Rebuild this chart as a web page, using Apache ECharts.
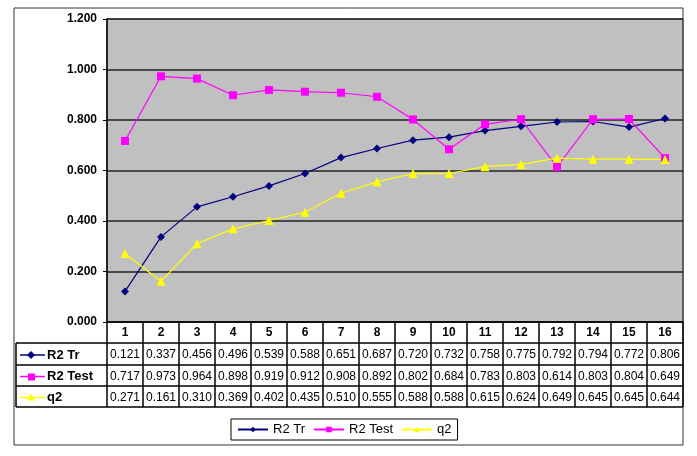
<!DOCTYPE html>
<html>
<head>
<meta charset="utf-8">
<script src="https://cdn.jsdelivr.net/npm/echarts@6/dist/echarts.min.js"></script>
<style>
  html, body { margin: 0; padding: 0; background: #fff; }
  #chart { width: 697px; height: 456px; }
</style>
</head>
<body>
<div id="chart"></div>
<script>
// data (matches the table under the chart)
const categories = ['1', '2', '3', '4', '5', '6', '7', '8', '9', '10', '11', '12', '13', '14', '15', '16']
const r2Tr = [0.121, 0.337, 0.456, 0.496, 0.539, 0.588, 0.651, 0.687, 0.720, 0.732, 0.758, 0.775, 0.792, 0.794, 0.772, 0.806]
const r2Test = [0.717, 0.973, 0.964, 0.898, 0.919, 0.912, 0.908, 0.892, 0.802, 0.684, 0.783, 0.803, 0.614, 0.803, 0.804, 0.649]
const q2 = [0.271, 0.161, 0.310, 0.369, 0.402, 0.435, 0.510, 0.555, 0.588, 0.588, 0.615, 0.624, 0.649, 0.645, 0.645, 0.644]
const seriesNames = ['R2 Tr', 'R2 Test', 'q2']

const FONT = '"Liberation Sans", Arial, sans-serif'
const colors = ['#000080', '#ff00ff', '#ffff00']
const symbols = ['diamond', 'rect', 'triangle']
const symbolSizes = [8, 8, 9]

// layout of plot + data table
const plotL = 107, plotR = 683, plotT = 19, plotB = 322
const tableL = 16
const rowLines = [343, 365, 386, 407]
const colW = (plotR - plotL) / categories.length

var myChart = echarts.init(document.getElementById('chart'))

// build the table under the chart
const graphics = []
// outer frame
graphics.push({
  type: 'rect',
  shape: { x: 14, y: 8, width: 669, height: 437 },
  style: { fill: null, stroke: '#333', lineWidth: 1 },
  silent: true
})
rowLines.forEach(y => {
  graphics.push({
    type: 'line',
    shape: { x1: tableL, y1: y, x2: plotR, y2: y },
    style: { stroke: '#000', lineWidth: 1.5 }
  })
})
graphics.push({
  type: 'line',
  shape: { x1: tableL, y1: rowLines[0], x2: tableL, y2: rowLines[3] },
  style: { stroke: '#000', lineWidth: 1.5 }
})
for (let i = 0; i <= categories.length; i++) {
  const x = plotL + colW * i
  graphics.push({
    type: 'line',
    shape: { x1: x, y1: plotB, x2: x, y2: rowLines[3] },
    style: { stroke: '#000', lineWidth: 1.5 }
  })
}
const tableData = [r2Tr, r2Test, q2]
tableData.forEach((arr, r) => {
  const yc = (rowLines[r] + rowLines[r + 1]) / 2 + 1
  // key: line + marker
  graphics.push({
    type: 'line',
    shape: { x1: 20, y1: yc, x2: 45, y2: yc },
    style: { stroke: colors[r], lineWidth: 1.5 }
  })
  let marker
  if (r === 0) {
    marker = { type: 'polygon', shape: { points: [[31, yc - 4], [35, yc], [31, yc + 4], [27, yc]] } }
  } else if (r === 1) {
    marker = { type: 'rect', shape: { x: 28, y: yc - 3, width: 7, height: 7 } }
  } else {
    marker = { type: 'polygon', shape: { points: [[31, yc - 4], [35, yc + 3], [27, yc + 3]] } }
  }
  marker.style = { fill: colors[r] }
  graphics.push(marker)
  graphics.push({
    type: 'text',
    x: 47, y: yc,
    style: { text: seriesNames[r], font: 'bold 13px ' + FONT, fill: '#000', verticalAlign: 'middle' }
  })
  arr.forEach((v, i) => {
    graphics.push({
      type: 'text',
      x: plotL + colW * (i + 0.5), y: yc,
      style: { text: v.toFixed(3), font: '12px ' + FONT, fill: '#000', align: 'center', verticalAlign: 'middle' }
    })
  })
})

var option = {
  animation: false,
  grid: {
    left: plotL, right: 697 - plotR, top: plotT, bottom: 456 - plotB,
    show: true,
    backgroundColor: '#c0c0c0',
    borderColor: '#444',
    borderWidth: 1
  },
  xAxis: {
    type: 'category',
    data: categories,
    boundaryGap: true,
    axisLine: { lineStyle: { color: '#000', width: 1.5 } },
    axisTick: { show: false },
    axisLabel: { margin: 5, fontSize: 12, fontWeight: 'bold', color: '#000', fontFamily: FONT }
  },
  yAxis: {
    type: 'value',
    min: 0, max: 1.2, interval: 0.2,
    axisLine: { show: true, lineStyle: { color: '#000', width: 1.5 } },
    axisTick: { show: true, length: 4, lineStyle: { color: '#000' } },
    axisLabel: {
      margin: 10, fontSize: 12, fontWeight: 'bold', color: '#000', fontFamily: FONT,
      formatter: v => v.toFixed(3)
    },
    splitLine: { lineStyle: { color: '#222', width: 1.5 } }
  },
  legend: {
    left: 231, top: 419,
    orient: 'horizontal',
    borderColor: '#000', borderWidth: 1,
    padding: [4, 6],
    itemGap: 8,
    itemWidth: 30, itemHeight: 7,
    textStyle: { fontSize: 13, color: '#000', fontFamily: FONT },
    data: seriesNames
  },
  series: tableData.map((arr, r) => ({
    name: seriesNames[r],
    type: 'line',
    data: arr,
    symbol: symbols[r],
    symbolSize: symbolSizes[r],
    showSymbol: true,
    lineStyle: { color: colors[r], width: 1.2 },
    itemStyle: { color: colors[r] }
  })),
  graphic: graphics
}

myChart.setOption(option)
</script>
</body>
</html>
